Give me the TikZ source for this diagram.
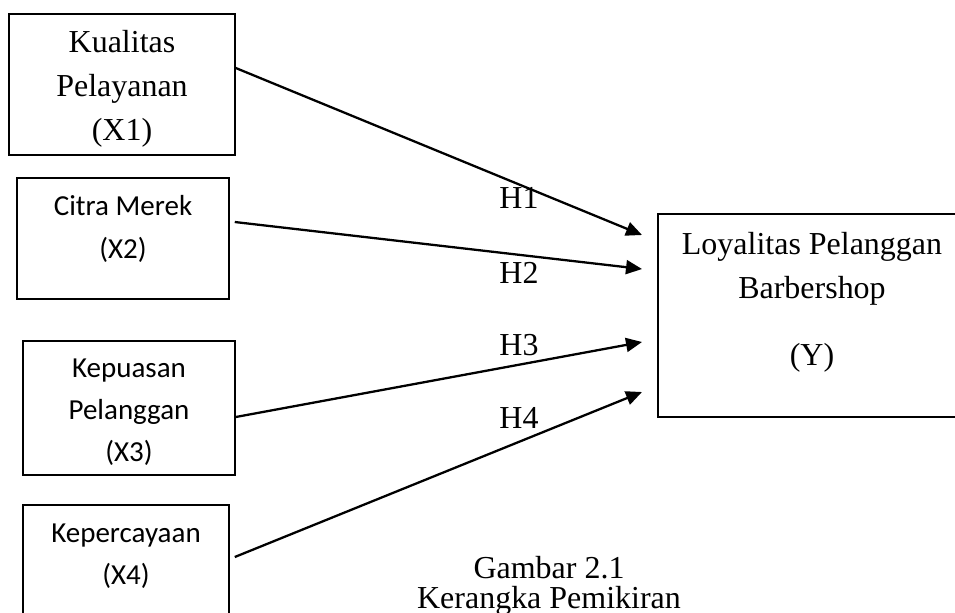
\documentclass[tikz,border=0pt]{standalone}
\usepackage{fontspec}
\setmainfont{Liberation Serif}
\newfontfamily\sansfnt{Carlito}
\usetikzlibrary{arrows.meta}
\begin{document}
\begin{tikzpicture}[x=0.02cm,y=-0.02cm,
	box/.style={draw,line width=0.9pt,inner sep=0pt},
	serif/.style={align=center,font=\fontsize{18.2}{25}\selectfont},
	sans/.style={align=center,font=\sansfnt\fontsize{16.5}{24}\selectfont},
	hyp/.style={-{Triangle[length=0.32cm,width=0.28cm]},line width=1.3pt}]
	\useasboundingbox (0,0) rectangle (955,612);
	% variabel bebas
	\node[box,minimum width=4.52cm,minimum height=2.82cm] (x1) at (122,84.5) {};
	\node[serif] (x1txt) at (122,89) {Kualitas\\Pelayanan\\(X1)};
	\node[box,minimum width=4.24cm,minimum height=2.42cm] (x2) at (123,238.5) {};
	\node[sans] (x2txt) at (123,229) {Citra Merek\\(X2)};
	\node[box,minimum width=4.24cm,minimum height=2.68cm] (x3) at (129,408) {};
	\node[sans] (x3txt) at (129,412) {Kepuasan\\Pelanggan\\(X3)};
	\node[box,minimum width=4.12cm,minimum height=2.9cm] (x4) at (126,577.5) {};
	\node[sans] (x4txt) at (126,556) {Kepercayaan\\(X4)};
	% variabel terikat
	\node[box,minimum width=6.08cm,minimum height=4.06cm] (y) at (810,315.5) {};
	\node[serif] (ytxt) at (812,302) {Loyalitas Pelanggan\\Barbershop\\[0.46cm](Y)};
	% ujung panah
	\coordinate (h1end) at (642,235);
	\coordinate (h2end) at (642,269);
	\coordinate (h3end) at (642,342);
	\coordinate (h4end) at (642,392);
	\draw[hyp] ([yshift=0.33cm]x1.east) -- (h1end);
	\draw[hyp] ([xshift=0.1cm,yshift=0.33cm]x2.east) -- (h2end);
	\draw[hyp] ([yshift=-0.18cm]x3.east) -- (h3end);
	\draw[hyp] ([xshift=0.1cm,yshift=0.41cm]x4.east) -- (h4end);
	\node[serif] (h1) at (519,198) {H1};
	\node[serif] (h2) at (519,273) {H2};
	\node[serif] (h3) at (519,345) {H3};
	\node[serif] (h4) at (519,418) {H4};
	% judul gambar
	\node[align=center,font=\fontsize{18.2}{17}\selectfont] (cap) at (549,586) {Gambar 2.1\\Kerangka Pemikiran};
\end{tikzpicture}
\end{document}
